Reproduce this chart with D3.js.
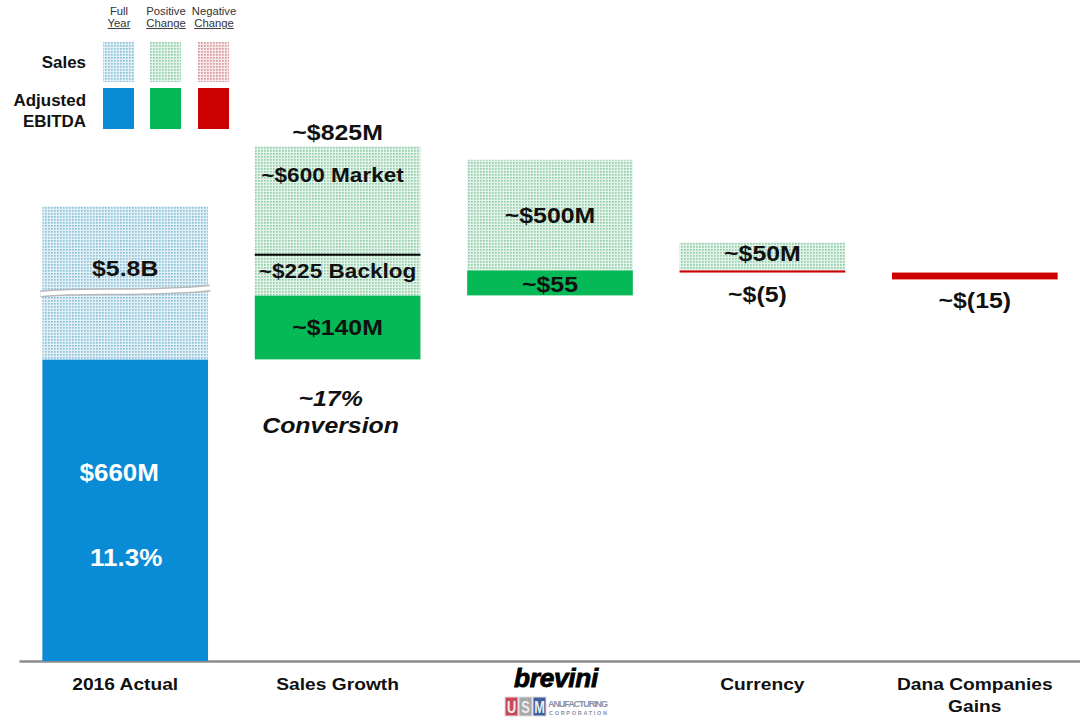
<!DOCTYPE html>
<html>
<head>
<meta charset="utf-8">
<script src="https://cdn.jsdelivr.net/npm/d3@7"></script>
<style>
  body { margin: 0; background: #fff; }
  text { font-family: "Liberation Sans", Arial, sans-serif; }
</style>
</head>
<body>
<div id="chart"></div>
<script>
const width = 1080;
const height = 717;
const stretch = 1.13; // slide text is drawn wider than tall

// data
const categories = ["2016 Actual", "Sales Growth", "Brevini", "Currency", "Dana Companies Gains"];
const ebitdaChange = [660, 140, 55, -5, -15];
const salesValue = [5800, 825, 500, 50, 0];
const ebitdaLabels = ["$660M", "~$140M", "~$55", "~$(5)", "~$(15)"];
const salesLabels = ["$5.8B", "~$825M", "~$500M", "~$50M", ""];
const salesSplit = [{ name: "~$225 Backlog", value: 225 }, { name: "~$600 Market", value: 600 }];
const marginPct = "11.3%";
const conversion = ["~17%", "Conversion"];
const axisLabels = [["2016 Actual"], ["Sales Growth"], [], ["Currency"], ["Dana Companies", "Gains"]];

const blue = "#0a8bd6";
const green = "#05b956";
const red = "#cc0000";

const svg = d3.select("#chart")
    .append("svg")
    .attr("width", width)
    .attr("height", height)
    .attr("viewBox", [0, 0, width, height])

// dotted fills for sales
const defs = svg.append("defs")
const addPattern = (id, bg, dot) => {
    const p = defs.append("pattern")
        .attr("id", id)
        .attr("width", 3)
        .attr("height", 3)
        .attr("patternUnits", "userSpaceOnUse")
    p.append("rect").attr("width", 3).attr("height", 3).attr("fill", bg)
    p.append("rect").attr("width", 1.7).attr("height", 1.7).attr("fill", dot)
}
addPattern("dotBlue", "#e2f0f6", "#8cc3dc")
addPattern("dotGreen", "#e4f3ea", "#93cfac")
addPattern("dotRed", "#f7e8e9", "#d79ca1")

const x = d3.scaleBand(categories, [19, 1081]).paddingInner(0.22).paddingOuter(0.11)
const y = d3.scaleLinear([0, 1000], [661, 204])
// sales drawn on its own compressed scale, clamped for the broken 2016 bar
const salesH = d3.scalePow().exponent(0.6).domain([0, 860]).range([0, 153]).clamp(true)

// waterfall steps
let run = 0
const steps = ebitdaChange.map((v, i) => {
    const start = i === 0 ? 0 : run
    run = start + v
    return { cat: categories[i], start, end: run, value: v, sales: salesValue[i], i }
})

const addText = (g, tx, ty, str, size, opts = {}) => {
    const t = g.append("g")
        .attr("transform", `translate(${tx},${ty}) scale(${opts.sx || stretch},1)`)
        .append("text")
        .attr("text-anchor", opts.anchor || "middle")
        .attr("font-size", size)
        .attr("font-weight", opts.weight || "bold")
        .attr("font-style", opts.style || "normal")
        .attr("fill", opts.fill || "#111")
        .text(str)
    if (opts.underline) t.attr("text-decoration", "underline")
    return t
}

// axis baseline
svg.append("g")
    .attr("transform", `translate(0,${y(0)})`)
    .call(d3.axisBottom(x).tickSize(0).tickFormat("").tickSizeOuter(0))
    .call(g => g.select(".domain").attr("stroke", "#8c8c8c").attr("stroke-width", 2.5))

const bars = svg.append("g")
const labels = svg.append("g")

steps.forEach(d => {
    const x0 = x(d.cat)
    const bw = x.bandwidth()
    const cx = x0 + bw / 2
    const top = y(Math.max(d.start, d.end))
    const bottom = y(Math.min(d.start, d.end))
    const col = d.i === 0 ? blue : (d.value >= 0 ? green : red)

    bars.append("rect")
        .attr("x", x0).attr("width", bw)
        .attr("y", top).attr("height", Math.max(bottom - top, 2))
        .attr("fill", col)

    if (d.sales > 0) {
        const h = salesH(d.sales)
        const fill = d.i === 0 ? "url(#dotBlue)" : "url(#dotGreen)"
        bars.append("rect")
            .attr("x", x0).attr("width", bw)
            .attr("y", top - h).attr("height", h)
            .attr("fill", fill)
        d.salesTop = top - h
        d.salesH = h
    }
    d.top = top
    d.bottom = bottom
    d.cx = cx
})

// 2016 actual
const a = steps[0]
const breakY = a.salesTop + a.salesH * 0.56
const wave = `M${x(a.cat) - 2},${breakY + 2} C${a.cx - 40},${breakY - 3} ${a.cx + 20},${breakY + 3} ${x(a.cat) + x.bandwidth() + 2},${breakY - 4}`
bars.append("path").attr("d", wave).attr("fill", "none").attr("stroke", "#b8b8b8").attr("stroke-width", 7)
bars.append("path").attr("d", wave).attr("fill", "none").attr("stroke", "#fff").attr("stroke-width", 4)
addText(labels, a.cx, a.salesTop + 70, salesLabels[0], 22)
const blueMid = (a.top + a.bottom) / 2
addText(labels, a.cx - 6, blueMid - 29, ebitdaLabels[0], 23, { fill: "#fff" })
addText(labels, a.cx + 1, blueMid + 56, marginPct, 23, { fill: "#fff" })

// sales growth
const s = steps[1]
const backlogH = s.salesH * salesSplit[0].value / (salesSplit[0].value + salesSplit[1].value)
const divY = s.top - backlogH
bars.append("line")
    .attr("x1", x(s.cat)).attr("x2", x(s.cat) + x.bandwidth())
    .attr("y1", divY).attr("y2", divY)
    .attr("stroke", "#000").attr("stroke-width", 2)
addText(labels, s.cx, s.salesTop - 6, salesLabels[1], 22)
addText(labels, s.cx - 5, s.salesTop + 36, salesSplit[1].name, 20)
addText(labels, s.cx, (divY + s.top) / 2 + 3, salesSplit[0].name, 20)
addText(labels, s.cx, (s.top + s.bottom) / 2 + 8, ebitdaLabels[1], 22)
addText(labels, s.cx - 7, s.bottom + 47, conversion[0], 22, { style: "italic" })
addText(labels, s.cx - 7, s.bottom + 74, conversion[1], 22, { style: "italic" })

// brevini
const b = steps[2]
addText(labels, b.cx, b.salesTop + b.salesH / 2 + 8, salesLabels[2], 22)
addText(labels, b.cx, (b.top + b.bottom) / 2 + 9, ebitdaLabels[2], 22)

// currency
const c = steps[3]
addText(labels, c.cx, c.salesTop + c.salesH / 2 + 5, salesLabels[3], 22)
addText(labels, c.cx - 5, c.bottom + 29, ebitdaLabels[3], 22)

// dana
const dn = steps[4]
addText(labels, dn.cx, dn.bottom + 29, ebitdaLabels[4], 22)

// category labels
axisLabels.forEach((lines, i) => {
    const cx = x(categories[i]) + x.bandwidth() / 2
    lines.forEach((l, j) => addText(labels, cx, 690 + j * 22, l, 17))
})

// brevini / USM logo
const bx = x("Brevini") + x.bandwidth() / 2
addText(labels, bx + 6, 687, "brevini", 25, { style: "italic", weight: "bold", fill: "#000", sx: 1.05 })
    .attr("stroke", "#000").attr("stroke-width", 0.8).attr("letter-spacing", -0.3)
const logo = svg.append("g").attr("transform", `translate(${bx - 45},697)`)
const boxes = [["U", "#c9485a"], ["S", "#a8a8ab"], ["M", "#3f5f9e"]]
boxes.forEach(([ch, col], i) => {
    logo.append("rect").attr("x", i * 14).attr("width", 13).attr("height", 19)
        .attr("fill", col).attr("stroke", "#ddd")
    logo.append("text").attr("x", i * 14 + 6.5).attr("y", 16).attr("text-anchor", "middle")
        .attr("font-size", 17).attr("font-weight", "bold").attr("fill", "#eee")
        .attr("transform", `translate(${i * 14 + 6.5},0) scale(0.75,1) translate(${-(i * 14 + 6.5)},0)`)
        .text(ch)
})
logo.append("text").attr("x", 43).attr("y", 10).attr("font-size", 9).attr("font-weight", "bold")
    .attr("fill", "#8890a8").attr("textLength", 60).text("ANUFACTURING")
logo.append("text").attr("x", 44).attr("y", 18).attr("font-size", 5.5).attr("font-weight", "bold")
    .attr("fill", "#8890a8").attr("textLength", 58).text("CORPORATION")

// legend
const legend = svg.append("g")
const legendCols = [["Full", "Year"], ["Positive", "Change"], ["Negative", "Change"]]
const legendX = [103, 150, 198]
const legendPat = ["url(#dotBlue)", "url(#dotGreen)", "url(#dotRed)"]
const legendSolid = [blue, green, red]
legendCols.forEach((lines, i) => {
    const cx = legendX[i] + 16
    addText(legend, cx, 15, lines[0], 10, { weight: "normal", fill: "#333" })
    addText(legend, cx, 27, lines[1], 10, { weight: "normal", fill: "#333", underline: true })
    legend.append("rect").attr("x", legendX[i]).attr("y", 42).attr("width", 31).attr("height", 40).attr("fill", legendPat[i])
    legend.append("rect").attr("x", legendX[i]).attr("y", 88).attr("width", 31).attr("height", 41).attr("fill", legendSolid[i])
})
addText(legend, 86, 68, "Sales", 16, { anchor: "end", sx: 1.06 })
addText(legend, 86, 106, "Adjusted", 16, { anchor: "end", sx: 1.06 })
addText(legend, 86, 127, "EBITDA", 16, { anchor: "end", sx: 1.06 })
</script>
</body>
</html>
